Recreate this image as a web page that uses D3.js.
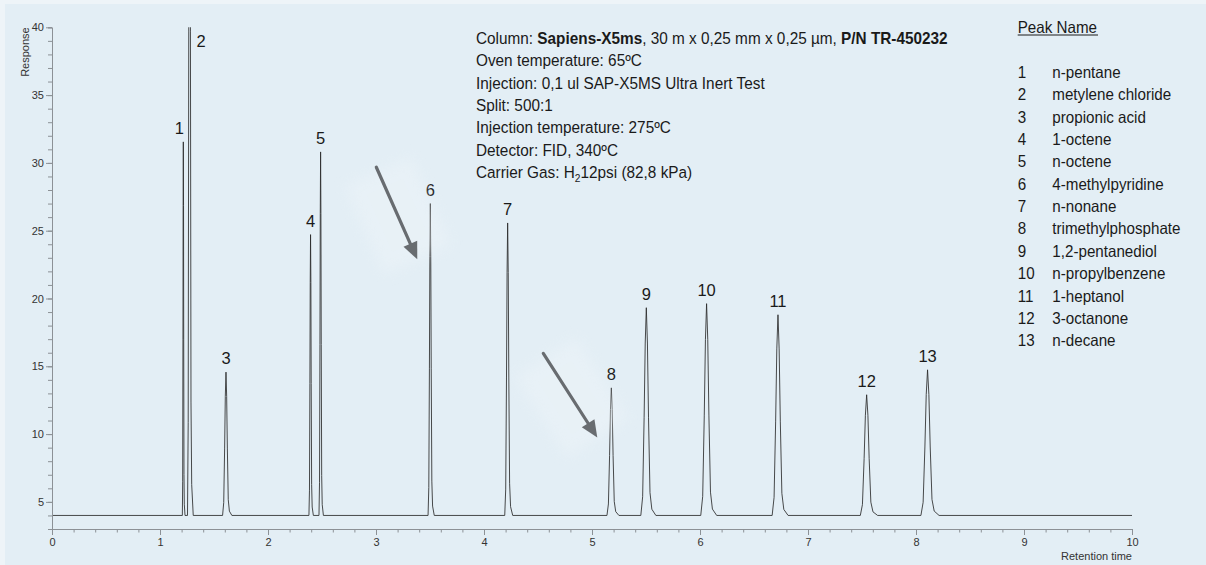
<!DOCTYPE html>
<html><head><meta charset="utf-8">
<script src="https://cdn.jsdelivr.net/npm/d3@7"></script>
<style>
body{margin:0;background:#eef4f8;}
svg{display:block;font-family:"Liberation Sans",Arial,sans-serif;}
</style>
</head><body>
<svg id="chart" width="1206" height="565"></svg>
<script>
// ---------------- data ----------------
const peakNumbers = [1,2,3,4,5,6,7,8,9,10,11,12,13];
const peakNames = ["n-pentane","metylene chloride","propionic acid","1-octene","n-octene",
  "4-methylpyridine","n-nonane","trimethylphosphate","1,2-pentanediol","n-propylbenzene",
  "1-heptanol","3-octanone","n-decane"];
const peakTimes   = [1.216,1.274,1.611,2.394,2.487,3.503,4.219,5.179,5.503,6.061,6.722,7.543,8.107];
const peakHeights = [31.55,80,14.57,24.71,30.81,27.0,25.57,13.41,19.32,19.62,18.8,12.9,14.74];
const peakWidths  = [0.012,0.026,0.042,0.02,0.02,0.028,0.036,0.054,0.068,0.072,0.072,0.078,0.082];
const baselineResponse = 4.0;
const xTickLabels = [0,1,2,3,4,5,6,7,8,9,10];
const yTickLabels = [5,10,15,20,25,30,35,40];
const xDomain = [0,10];
const yDomain = [3,40];
// arrows in data space
const arrowStartT = [3.003,4.549];
const arrowStartR = [29.68,15.95];
const arrowEndT   = [3.382,5.049];
const arrowEndR   = [22.89,9.74];
const infoLines = [
  [["Column: ",false],["Sapiens-X5ms",true],[", 30 m x 0,25 mm x 0,25 µm, ",false],["P/N TR-450232",true]],
  [["Oven temperature: 65ºC",false]],
  [["Injection: 0,1 ul SAP-X5MS Ultra Inert Test",false]],
  [["Split: 500:1",false]],
  [["Injection temperature: 275ºC",false]],
  [["Detector: FID, 340ºC",false]],
  [["Carrier Gas: H",false],["2",false,"sub"],["12psi (82,8 kPa)",false,"afterSub"]]
];

// ---------------- layout ----------------
const svg = d3.select("#chart");
const W = 1206, H = 565;
const mLeft = 52, mRight = 1132, mTop = 27.3, mBottom = 529;
const x = d3.scaleLinear().domain(xDomain).range([mLeft, mRight]);
const y = d3.scaleLinear().domain(yDomain).range([mBottom, mTop]);

svg.append("rect").attr("width",W).attr("height",H).attr("fill","#eef4f8");
svg.append("rect").attr("x",5).attr("y",4).attr("width",W-5).attr("height",H-4).attr("fill","#e3eef5");

const defs = svg.append("defs");
defs.append("clipPath").attr("id","plotclip").append("rect")
  .attr("x",mLeft).attr("y",mTop).attr("width",mRight-mLeft).attr("height",mBottom-mTop);
defs.append("filter").attr("id","blur").attr("x","-50%").attr("y","-50%").attr("width","200%").attr("height","200%")
  .append("feGaussianBlur").attr("stdDeviation",7);

// ---------------- trace ----------------
const relX = [-0.75,-0.5,-0.3,-0.15,0,0.15,0.3,0.5,0.75,1.3];
const relY = [0,0.09,0.47,0.83,1,0.83,0.47,0.11,0.03,0];
const trace = [[xDomain[0], baselineResponse]];
peakTimes.forEach((t,i)=>{
  const h = peakHeights[i]-baselineResponse;
  relX.forEach((rx,k)=>trace.push([t+rx*peakWidths[i], baselineResponse+relY[k]*h]));
});
trace.push([xDomain[1], baselineResponse]);

svg.append("path").datum(trace)
  .attr("clip-path","url(#plotclip)")
  .attr("fill","none").attr("stroke","#2a2a2a").attr("stroke-width",0.85)
  .attr("stroke-linejoin","round")
  .attr("d", d3.line().x(d=>x(d[0])).y(d=>y(d[1])));

// ---------------- axes ----------------
const axisColor = "#8c9196";
function styleAxis(g){
  g.select(".domain").attr("stroke",axisColor);
  g.selectAll(".tick line").attr("stroke",axisColor);
  g.selectAll(".tick text").attr("fill","#333").attr("font-size","11px")
    .attr("font-family","'Liberation Sans',Arial,sans-serif");
}
svg.append("g").attr("transform",`translate(${mLeft},0)`)
  .call(d3.axisLeft(y).tickValues(d3.range(3,41,1)).tickSize(4).tickFormat(""))
  .call(styleAxis);
svg.append("g").attr("transform",`translate(0,${mBottom})`)
  .call(d3.axisBottom(x).tickValues(d3.range(0,10.01,0.2)).tickSize(3.5).tickFormat(""))
  .call(styleAxis);
svg.append("g").attr("transform",`translate(${mLeft},0)`)
  .call(d3.axisLeft(y).tickValues(yTickLabels).tickSize(6).tickPadding(2).tickFormat(d3.format("d")))
  .call(styleAxis).call(g=>g.select(".domain").remove());
svg.append("g").attr("transform",`translate(0,${mBottom})`)
  .call(d3.axisBottom(x).tickValues(xTickLabels).tickSize(6).tickPadding(3).tickFormat(d3.format("d")))
  .call(styleAxis).call(g=>g.select(".domain").remove());

svg.append("text").attr("transform",`translate(28.5,${mTop}) rotate(-90)`)
  .attr("text-anchor","end").attr("font-size","11px").attr("fill","#333").text("Response");
svg.append("text").attr("x",mRight).attr("y",560)
  .attr("text-anchor","end").attr("font-size","11px").attr("fill","#333").text("Retention time");

// ---------------- peak labels ----------------
svg.append("g").selectAll("text").data(peakNumbers).join("text")
  .attr("font-size","16.5px").attr("fill","#1a1a1a")
  .attr("text-anchor", (d,i)=> peakHeights[i] > yDomain[1] ? "start" : "middle")
  .attr("x",(d,i)=> peakHeights[i] > yDomain[1] ? x(peakTimes[i])+7 : x(peakTimes[i]) + (i===0 ? -4 : 0))
  .attr("y",(d,i)=> peakHeights[i] > yDomain[1] ? y(yDomain[1])+20 : y(peakHeights[i])-8)
  .text(d=>d);

// ---------------- arrows ----------------
const arrowG = svg.append("g");
arrowStartT.forEach((t0,i)=>{
  const x0=x(t0), y0=y(arrowStartR[i]), x1=x(arrowEndT[i]), y1=y(arrowEndR[i]);
  const ang = Math.atan2(y1-y0,x1-x0)*180/Math.PI;
  const len = Math.hypot(x1-x0,y1-y0);
  const g = arrowG.append("g").attr("transform",`translate(${x0},${y0}) rotate(${ang})`);
  g.append("rect").attr("x",len*0.05).attr("y",-36).attr("width",len*0.95).attr("height",72)
    .attr("fill","#f2f7fa").attr("opacity",0.35).attr("filter","url(#blur)");
  g.append("line").attr("x1",0).attr("y1",0).attr("x2",len-12).attr("y2",0)
    .attr("stroke","#686c70").attr("stroke-width",3.2).attr("stroke-linecap","round");
  g.append("path").attr("d",`M${len},0 L${len-17},-7.5 L${len-17},7.5 Z`).attr("fill","#686c70");
});

// ---------------- info block ----------------
const info = svg.append("g").attr("font-size","16.5px").attr("fill","#1a1a1a");
infoLines.forEach((parts,i)=>{
  const t = info.append("text").attr("transform",`translate(476,${44+i*22.35}) scale(0.93,1)`);
  parts.forEach(p=>{
    const ts = t.append("tspan").text(p[0]);
    if(p[1]) ts.attr("font-weight","bold");
    if(p[2]==="sub") ts.attr("font-size","11px").attr("dy",4);
    if(p[2]==="afterSub") ts.attr("dy",-4);
  });
});

// ---------------- legend ----------------
const leg = svg.append("g").attr("font-size","16.5px").attr("fill","#1a1a1a");
leg.append("text").attr("transform","translate(1017.7,32.5) scale(0.92,1)").text("Peak Name");
leg.append("line").attr("x1",1017.7).attr("x2",1098).attr("y1",35).attr("y2",35)
  .attr("stroke","#1a1a1a").attr("stroke-width",1);
peakNumbers.forEach((n,i)=>{
  leg.append("text").attr("transform",`translate(1017.7,${78+i*22.35}) scale(0.92,1)`).text(n);
  leg.append("text").attr("transform",`translate(1052.3,${78+i*22.35}) scale(0.92,1)`).text(peakNames[i]);
});
</script>
</body></html>
